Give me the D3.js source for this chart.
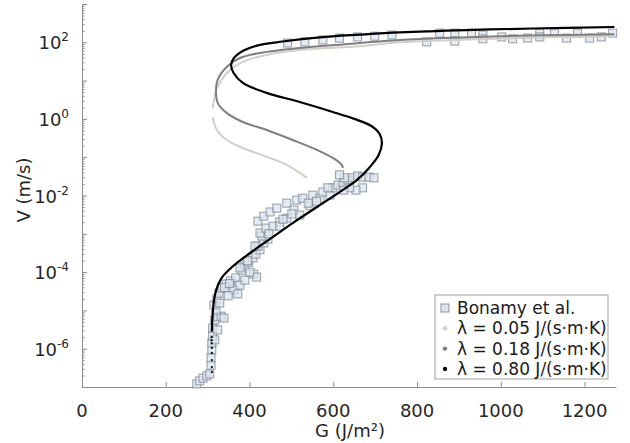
<!DOCTYPE html>
<html lang="en">
<head>
<meta charset="UTF-8">
<title>V vs G</title>
<script src="https://cdn.jsdelivr.net/npm/d3@7"></script>
<style>
	body { margin: 0; background: #fff; }
	svg { font-family: "DejaVu Sans", sans-serif; }
	.axis line, .axis path { stroke: #8c8c8c; }
	.curve { fill: none; }
</style>
</head>
<body>
<svg id="chart" width="630" height="443"></svg>
<script>
// axis ticks
var xTicks = [0, 200, 400, 600, 800, 1000, 1200];
var yTickExp = [-6, -4, -2, 0, 2];

// Bonamy et al. measurements: G (J/m2) and log10 V (m/s)
var bonamyG = [274, 281, 289, 298, 305, 308, 308, 310, 310, 312, 312, 317, 324, 332, 339, 320, 315, 322, 329, 327,
	334, 344, 355, 367, 363, 372, 377, 389, 410, 417, 382, 389, 398, 408, 377, 415, 425, 420, 434, 444,
	429, 413, 425, 439, 420, 434, 449, 465, 456, 472, 489, 489, 506, 513, 527, 520, 544, 551, 568, 575,
	592, 599, 611, 623, 635, 646, 658, 670, 685, 697, 670, 654, 639, 627, 615, 625, 587, 501, 472, 401,
	349, 324, 317, 340, 352, 395, 446, 480, 540, 560,
	491, 532, 575, 615, 658, 699, 740, 823, 854, 890, 890, 930, 957, 957, 1002, 1028, 1064, 1093, 1093, 1128,
	1157, 1183, 1212, 1240, 1267];
var bonamyLogV = [-6.92, -6.84, -6.77, -6.71, -6.66, -6.43, -6.24, -6.03, -5.85, -5.67, -5.46, -5.25, -5.17, -5.15, -5.20, -4.99, -4.86, -4.70, -4.81, -4.55,
	-4.42, -4.31, -4.23, -4.15, -4.47, -4.57, -4.34, -4.21, -4.05, -4.13, -3.95, -3.84, -3.74, -3.63, -3.89, -3.53, -3.42, -3.32, -3.24, -3.14,
	-3.06, -3.32, -2.98, -2.85, -2.67, -2.54, -2.43, -2.33, -2.80, -2.69, -2.59, -2.20, -2.38, -2.12, -2.07, -2.51, -2.27, -1.99, -2.07, -1.91,
	-1.99, -1.80, -1.73, -1.67, -1.60, -1.54, -1.49, -1.52, -1.52, -1.54, -1.80, -1.86, -1.80, -1.54, -1.46, -1.86, -1.80, -2.48, -2.80, -4.00,
	-4.62, -5.51, -5.77, -4.40, -4.30, -3.70, -3.00, -2.62, -2.20, -2.15,
	1.98, 2.01, 2.06, 2.11, 2.14, 2.16, 2.19, 2.01, 2.24, 2.24, 2.03, 2.24, 2.19, 2.09, 2.14, 2.09, 2.11, 2.24, 2.14, 2.24,
	2.11, 2.24, 2.11, 2.14, 2.24];

// model curves, lambda = 0.05 (drawn in two pieces, the sparse part is a gap)
var lam005LowG = [537, 520, 489, 441, 384, 346, 322, 312];
var lam005LowLogV = [-1.54, -1.41, -1.20, -0.99, -0.76, -0.55, -0.29, 0.05];
var lam005HighG = [312, 315, 322, 346, 384, 441, 520, 663, 759, 1000, 1271];
var lam005HighLogV = [0.28, 0.49, 0.81, 1.20, 1.49, 1.67, 1.80, 1.90, 2.00, 2.10, 2.16];

// lambda = 0.18
var lam018G = [623, 620, 599, 561, 503, 441, 384, 346, 324, 320, 324, 346, 377, 441, 520, 663, 759, 1000, 1271];
var lam018LogV = [-1.28, -1.20, -1.02, -0.81, -0.55, -0.29, -0.08, 0.15, 0.42, 0.68, 1.02, 1.36, 1.59, 1.75, 1.85, 1.98, 2.06, 2.16, 2.21];

// lambda = 0.80
var lam080G = [310, 311, 313, 316, 321, 328, 337, 350, 370, 408, 456, 503, 561, 615, 656, 687, 708, 716, 711, 690, 650, 599, 520,
	441, 384, 362, 356, 362, 385, 420, 479, 568, 663, 759, 918, 1076, 1271];
var lam080LogV = [-5.55, -5.25, -4.95, -4.68, -4.45, -4.26, -4.10, -3.95, -3.76, -3.45, -3.08, -2.72, -2.30, -1.91, -1.60, -1.26, -0.95, -0.65, -0.40, -0.18, 0.00, 0.18, 0.44,
	0.68, 0.94, 1.20, 1.40, 1.58, 1.78, 1.92, 2.02, 2.13, 2.20, 2.26, 2.32, 2.36, 2.40];
// sparse points at the lower end
var lam080DotsG = [310, 310, 310, 310, 310, 310, 310, 310];
var lam080DotsLogV = [-5.70, -5.78, -5.86, -5.98, -6.11, -6.30, -6.48, -6.61];

var legendLabels = ["Bonamy et al.", "\u03bb = 0.05 J/(s\u00b7m\u00b7K)", "\u03bb = 0.18 J/(s\u00b7m\u00b7K)", "\u03bb = 0.80 J/(s\u00b7m\u00b7K)"];

var colLight = "#d3cfc7", colMid = "#7f7f7f", colDark = "#000";

var svg = d3.select("#chart");
var x = d3.scaleLinear().domain([0, 1275]).range([82, 616]);
var y = d3.scaleLog().domain([1e-7, 1e3]).range([387, 4]);

function pts(gs, lvs) {
	return gs.map(function (g, i) { return [g, Math.pow(10, lvs[i])]; });
}

// axes
var xAxis = d3.axisBottom(x).tickValues(xTicks).tickSizeInner(-5).tickSizeOuter(0).tickFormat("");
var gx = svg.append("g").attr("class", "axis").attr("transform", "translate(0,387)").call(xAxis);
gx.select(".domain").attr("stroke", "#8c8c8c");

var minor = [];
for (var e = -7; e < 3; e++) for (var k = 2; k < 10; k++) minor.push(k * Math.pow(10, e));
var gy = svg.append("g").attr("class", "axis").attr("transform", "translate(82,0)");
gy.call(d3.axisLeft(y).tickValues(minor).tickSizeInner(-2.5).tickSizeOuter(0).tickFormat(""));
gy.append("g").call(d3.axisLeft(y).tickValues(d3.range(-7, 4).map(function (e) { return Math.pow(10, e); }))
	.tickSizeInner(-5).tickSizeOuter(0).tickFormat("")).select(".domain").remove();
gy.selectAll("line").attr("stroke", "#8c8c8c");

svg.append("g").selectAll("text").data(xTicks).join("text")
	.attr("x", function (d) { return x(d); }).attr("y", 417)
	.attr("text-anchor", "middle").attr("font-size", 18).attr("fill", "#262626")
	.text(function (d) { return d; });

var yl = svg.append("g").selectAll("text").data(yTickExp).join("text")
	.attr("x", 69).attr("y", function (d) { return y(Math.pow(10, d)) + 7; })
	.attr("text-anchor", "end").attr("font-size", 18).attr("fill", "#262626");
yl.append("tspan").text("10");
yl.append("tspan").attr("font-size", 12).attr("dy", -8).text(function (d) { return d; });

svg.append("text").attr("x", 350).attr("y", 437).attr("text-anchor", "middle")
	.attr("font-size", 18).attr("fill", "#262626").text("G (J/m\u00b2)");
svg.append("text").attr("transform", "translate(30,190) rotate(-90)").attr("text-anchor", "middle")
	.attr("font-size", 18).attr("fill", "#262626").text("V (m/s)");

// data squares
var sq = 8;
svg.append("g").selectAll("rect").data(pts(bonamyG, bonamyLogV)).join("rect")
	.attr("x", function (d) { return x(d[0]) - sq / 2; })
	.attr("y", function (d) { return y(d[1]) - sq / 2; })
	.attr("width", sq).attr("height", sq)
	.attr("fill", "#dae4f0").attr("fill-opacity", 0.75)
	.attr("stroke", "#7f868f").attr("stroke-opacity", 0.8).attr("stroke-width", 1);

// model curves
var line = d3.line().curve(d3.curveCatmullRom.alpha(0.5))
	.x(function (d) { return x(d[0]); }).y(function (d) { return y(d[1]); });

[[pts(lam005LowG, lam005LowLogV), colLight], [pts(lam005HighG, lam005HighLogV), colLight],
 [pts(lam018G, lam018LogV), colMid], [pts(lam080G, lam080LogV), colDark]].forEach(function (c) {
	svg.append("path").attr("class", "curve").attr("d", line(c[0]))
		.attr("stroke", c[1]).attr("stroke-width", c[1] === colDark ? 2.2 : 2);
});

svg.append("g").selectAll("circle").data(pts(lam080DotsG, lam080DotsLogV)).join("circle")
	.attr("cx", function (d) { return x(d[0]); }).attr("cy", function (d) { return y(d[1]); })
	.attr("r", 1.1).attr("fill", colDark);

// legend
var lg = svg.append("g").attr("transform", "translate(435,295)");
lg.append("rect").attr("width", 173).attr("height", 84).attr("fill", "#fff").attr("stroke", "#a0a0a0");
var rows = lg.selectAll("g").data(legendLabels).join("g")
	.attr("transform", function (d, i) { return "translate(0," + (13 + i * 20.3) + ")"; });
rows.append("text").attr("x", 22).attr("y", 6).attr("font-size", 17).attr("fill", "#1a1a1a")
	.text(function (d) { return d; });
rows.filter(function (d, i) { return i === 0; }).append("rect")
	.attr("x", 6).attr("y", -4).attr("width", 8).attr("height", 8)
	.attr("fill", "#dae4f0").attr("stroke", "#8d939c");
var dotCols = [null, colLight, colMid, colDark];
rows.filter(function (d, i) { return i > 0; }).append("circle")
	.attr("cx", 10).attr("cy", 0).attr("r", 2.2)
	.attr("fill", function (d, i) { return dotCols[legendLabels.indexOf(d)]; });
</script>
</body>
</html>
